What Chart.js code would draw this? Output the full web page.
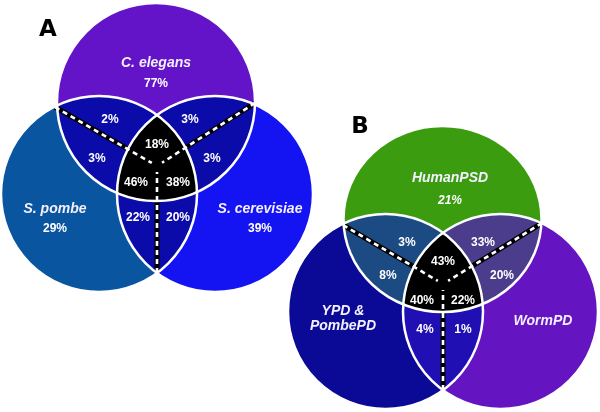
<!DOCTYPE html>
<html><head><meta charset="utf-8">
<script src="https://cdn.jsdelivr.net/npm/chart.js@4"></script>
<style>html,body{margin:0;padding:0;background:#fff}#wrap{width:600px;height:412px}</style>
</head><body><div id="wrap"><canvas id="c" width="600" height="412"></canvas></div>
<script>
// ---------- DATA ----------
const panelLetters = ["A", "B"];
// Panel A
const setNamesA = ["C. elegans", "S. pombe", "S. cerevisiae"];
const uniqueA = [77, 29, 39];            // top, left, right only
const pairTopLeftA = [2, 3];             // top side, left side
const pairTopRightA = [3, 3];            // top side, right side
const pairBottomA = [22, 20];            // left side, right side
const tripleA = [18, 46, 38];            // top, left, right
// Panel B
const setNamesB = ["HumanPSD", "YPD &\nPombePD", "WormPD"];
const uniqueB = [21, null, null];
const pairTopLeftB = [3, 8];
const pairTopRightB = [33, 20];
const pairBottomB = [4, 1];
const tripleB = [43, 40, 22];

// ---------- LAYOUT (data units, mapped through the chart scales) ----------
const panels = [
  {
    letter: panelLetters[0], letterPos: [48, 30],
    circles: [ {x:156, y:102, rx:99, ry:99}, {x:99, y:194, rx:98, ry:98}, {x:215, y:194, rx:98, ry:98} ],
    colors: { T:"#6414C8", L:"#0A55A0", R:"#1414F2", TL:"#0B0BAA", TR:"#0B0BAA", LR:"#0B0BAA" },
    center: [157, 166], ends: [[55,107],[255,103],[157,273]],
    names: setNamesA, namePos: [[156,63],[55,209],[260,209]], nameItalicPct: false,
    unique: uniqueA, uniquePos: [[156,84],[55,229],[260,229]],
    pairTL: pairTopLeftA, pairTLPos: [[110,120],[97,159]],
    pairTR: pairTopRightA, pairTRPos: [[190,120],[212,159]],
    pairB: pairBottomA, pairBPos: [[138,218],[178,218]],
    triple: tripleA, triplePos: [[157,145],[136,183],[178,183]]
  },
  {
    letter: panelLetters[1], letterPos: [360,127],
    circles: [ {x:442.5, y:219, rx:99, ry:93}, {x:385.5, y:311.5, rx:97.5, ry:97.5}, {x:500.5, y:311.5, rx:97.5, ry:97.5} ],
    colors: { T:"#3C9C10", L:"#0A0A96", R:"#6414C0", TL:"#1C4A82", TR:"#4C3C8C", LR:"#2010B4" },
    center: [443, 284], ends: [[343,225],[542,223],[443,390]],
    names: setNamesB, namePos: [[450,178],[343,311],[543,321]], nameItalicPct: true,
    unique: uniqueB, uniquePos: [[450,201],[0,0],[0,0]],
    pairTL: pairTopLeftB, pairTLPos: [[407,243],[388,276]],
    pairTR: pairTopRightB, pairTRPos: [[483,243],[502,276]],
    pairB: pairBottomB, pairBPos: [[425,330],[463,330]],
    triple: tripleB, triplePos: [[443,262],[422,301],[463,301]]
  }
];

const vennPlugin = {
  id: 'venn',
  afterDatasetsDraw(chart) {
    const ctx = chart.ctx, sx = chart.scales.x, sy = chart.scales.y;
    const P = (x, y) => [sx.getPixelForValue(x), sy.getPixelForValue(y)];
    const path = (c) => {
      const [px, py] = P(c.x, c.y);
      const rx = Math.abs(sx.getPixelForValue(c.x + c.rx) - px);
      const ry = Math.abs(sy.getPixelForValue(c.y + c.ry) - py);
      ctx.beginPath(); ctx.ellipse(px, py, rx, ry, 0, 0, Math.PI * 2);
    };
    const fill = (c, col) => { path(c); ctx.fillStyle = col; ctx.fill(); };
    const clip = (c) => { path(c); ctx.clip(); };
    const text = (s, x, y, italic) => {
      const [px, py] = P(x, y);
      ctx.font = (italic ? "italic " : "") + "bold 12px 'Liberation Sans', Arial, sans-serif";
      ctx.fillStyle = "#fff"; ctx.textAlign = "center"; ctx.textBaseline = "middle";
      ctx.fillText(s, px, py);
    };
    panels.forEach(p => {
      const [T, L, R] = p.circles;
      ctx.save();
      fill(T, p.colors.T); fill(L, p.colors.L); fill(R, p.colors.R);
      ctx.save(); clip(T); fill(L, p.colors.TL); ctx.restore();
      ctx.save(); clip(T); fill(R, p.colors.TR); ctx.restore();
      ctx.save(); clip(L); fill(R, p.colors.LR); ctx.restore();
      ctx.save(); clip(T); clip(L); fill(R, "#000"); ctx.restore();
      // dashed separators
      const [cx, cy] = P(p.center[0], p.center[1]);
      p.ends.forEach(e => {
        const [ex, ey] = P(e[0], e[1]);
        const dx = cx - ex, dy = cy - ey, len = Math.hypot(dx, dy);
        const gx = ex + dx * (len - 6) / len, gy = ey + dy * (len - 6) / len;
        ctx.setLineDash([]); ctx.lineCap = "butt";
        ctx.strokeStyle = "#000"; ctx.lineWidth = 5;
        ctx.beginPath(); ctx.moveTo(ex, ey); ctx.lineTo(gx, gy); ctx.stroke();
        ctx.strokeStyle = "#fff"; ctx.lineWidth = 2.6; ctx.setLineDash([5, 4]);
        ctx.beginPath(); ctx.moveTo(ex, ey); ctx.lineTo(gx, gy); ctx.stroke();
      });
      ctx.setLineDash([]);
      // white borders
      ctx.strokeStyle = "#fff"; ctx.lineWidth = 2.5;
      [T, L, R].forEach(c => { path(c); ctx.stroke(); });
      ctx.restore();
      // labels
      p.names.forEach((n, i) => {
        const lines = n.split("\n");
        const [x, y] = p.namePos[i];
        ctx.save();
        ctx.font = "italic bold 14px 'Liberation Sans', Arial, sans-serif";
        ctx.fillStyle = "#F4F0FF"; ctx.textAlign = "center"; ctx.textBaseline = "middle";
        lines.forEach((ln, k) => {
          const [px, py] = P(x, y + k * 15);
          ctx.fillText(ln, px, py);
        });
        ctx.restore();
      });
      p.unique.forEach((v, i) => { if (v !== null) text(v + "%", p.uniquePos[i][0], p.uniquePos[i][1], p.nameItalicPct); });
      p.pairTL.forEach((v, i) => text(v + "%", p.pairTLPos[i][0], p.pairTLPos[i][1]));
      p.pairTR.forEach((v, i) => text(v + "%", p.pairTRPos[i][0], p.pairTRPos[i][1]));
      p.pairB.forEach((v, i) => text(v + "%", p.pairBPos[i][0], p.pairBPos[i][1]));
      p.triple.forEach((v, i) => text(v + "%", p.triplePos[i][0], p.triplePos[i][1]));
      // panel letter
      const [lx, ly] = P(p.letterPos[0], p.letterPos[1]);
      ctx.save();
      ctx.font = "900 23px 'DejaVu Sans', 'Liberation Sans', Arial, sans-serif";
      ctx.fillStyle = "#000"; ctx.textAlign = "center"; ctx.textBaseline = "middle";
      ctx.fillText(p.letter, lx, ly);
      ctx.restore();
    });
  }
};

new Chart(document.getElementById('c'), {
  type: 'scatter',
  data: { datasets: [{ data: panels.flatMap(p => p.circles.map(c => ({x: c.x, y: c.y}))), pointRadius: 0, pointHoverRadius: 0 }] },
  options: {
    responsive: false, animation: false,
    layout: { padding: 0 },
    scales: {
      x: { type: 'linear', min: 0, max: 600, display: false },
      y: { type: 'linear', min: 0, max: 412, reverse: true, display: false }
    },
    plugins: { legend: { display: false }, tooltip: { enabled: false } },
    events: []
  },
  plugins: [vennPlugin]
});
</script>
</body></html>
